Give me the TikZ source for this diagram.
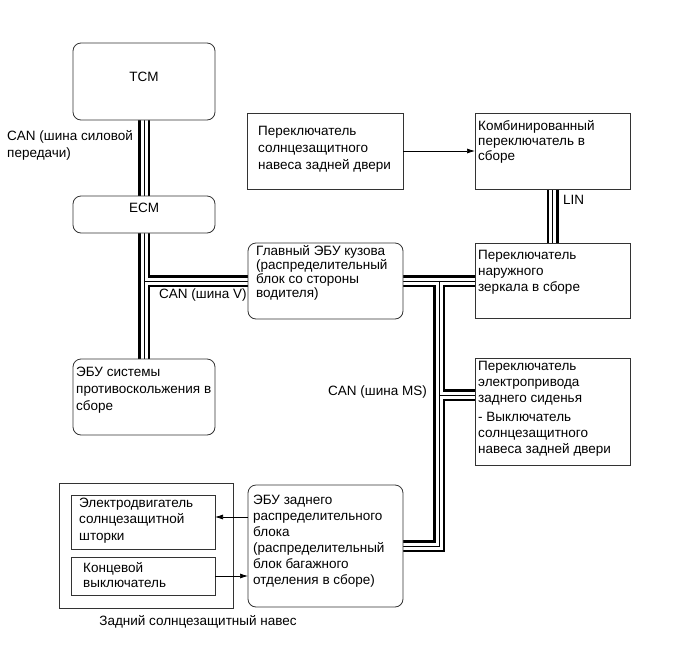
\documentclass[tikz,border=0pt]{standalone}
\usepackage{fontspec}
\setmainfont{Liberation Sans}
\usetikzlibrary{arrows.meta,calc}
\pgfdeclarelayer{bg}
\pgfsetlayers{bg,main}
\begin{document}
\begin{tikzpicture}[x=1pt,y=-1pt,
  box/.style={draw=black!80, line width=0.8pt, fill=white, inner sep=0pt, outer sep=0pt, anchor=north west},
  rbox/.style={box, rounded corners=8pt},
  txt/.style={font=\fontsize{13.5}{16}\selectfont, align=left, anchor=north west, inner sep=0pt, execute at begin node=\rule{0pt}{12pt}},
  ctxt/.style={font=\fontsize{13.5}{16}\selectfont, inner sep=0pt},
  arr/.style={line width=0.7pt, -{Latex[length=8pt,width=5pt]}}
]
\useasboundingbox (0,0) rectangle (686,662);

% boxes
\node[rbox, minimum width=142pt, minimum height=77pt] (tcm) at (73,43) {};
\node[rbox, minimum width=142pt, minimum height=37pt] (ecm) at (73,196) {};
\node[rbox, minimum width=142pt, minimum height=76pt] (abs) at (73,359) {};
\node[rbox, minimum width=155pt, minimum height=76pt] (bcm) at (248,243) {};
\node[box, minimum width=156pt, minimum height=76pt] (door) at (247,113) {};
\node[box, minimum width=155pt, minimum height=76pt] (comb) at (475,113) {};
\node[box, minimum width=155pt, minimum height=75pt] (mirror) at (475,243) {};
\node[box, minimum width=155pt, minimum height=107pt] (seat) at (475,358) {};
\node[rbox, minimum width=155pt, minimum height=122pt] (rear) at (248,485) {};
\node[box, minimum width=174pt, minimum height=125pt] (shade) at (59,483) {};
\node[box, minimum width=144pt, minimum height=54pt] (motor) at (71,495) {};
\node[box, minimum width=144pt, minimum height=38pt] (limit) at (71,557) {};

% texts
\node[ctxt] (ttcm) at (144,77) {TCM};
\node[ctxt] (tecm) at (144,208) {ECM};
\node[txt, font=\fontsize{13.5}{17}\selectfont] (tabs) at (76,366.7) {ЭБУ системы\\противоскольжения в\\сборе};
\node[txt, font=\fontsize{13.5}{14}\selectfont] (tbcm) at (256,245.7) {Главный ЭБУ кузова\\(распределительный\\блок со стороны\\водителя)};
\node[txt, font=\fontsize{13.5}{17}\selectfont] (tdoor) at (258,125.7) {Переключатель\\солнцезащитного\\навеса задней двери};
\node[txt, font=\fontsize{13.5}{15}\selectfont] (tcomb) at (478,120.7) {Комбинированный\\переключатель в\\сборе};
\node[txt] (tmirror) at (478,249.7) {Переключатель\\наружного\\зеркала в сборе};
\node[txt] (tseat) at (478,360.7) {Переключатель\\электропривода\\заднего сиденья\\[3pt]- Выключатель\\солнцезащитного\\навеса задней двери};
\node[txt, font=\fontsize{13.5}{16.5}\selectfont] (tmotor) at (79,497.7) {Электродвигатель\\солнцезащитной\\шторки};
\node[txt, font=\fontsize{13.5}{15}\selectfont] (tlimit) at (83,562.7) {Концевой\\выключатель};
\node[txt] (trear) at (253,494.7) {ЭБУ заднего\\распределительного\\блока\\(распределительный\\блок багажного\\отделения в сборе)};
\node[ctxt] (tshade) at (198,622) {Задний солнцезащитный навес};
\node[txt, font=\fontsize{13.5}{17}\selectfont] (lcan1) at (7,130.7) {CAN (шина силовой\\передачи)};
\node[ctxt, anchor=west] (lcanv) at (159,295) {CAN (шина V)};
\node[ctxt, anchor=west] (lcanms) at (328,392) {CAN (шина MS)};
\node[ctxt, anchor=west] (llin) at (563,200) {LIN};

% junction coordinates
\coordinate (jv) at (ecm.south |- bcm.west);
\coordinate (jms) at ($(bcm.east)!0.5!(mirror.west)$);
\coordinate (js) at (jms |- 0,395);

\newcommand\busnet[1]{%
  \draw[#1] (tcm.south) -- (ecm.north);
  \draw[#1] (ecm.south) -- (abs.north);
  \draw[#1] (jv) -- (bcm.west);
  \draw[#1] (bcm.east) -- (bcm.east -| mirror.west);
  \draw[#1] (comb.south) -- (mirror.north);
  \draw[#1] (jms) |- (rear.east);
  \draw[#1] (js) -- (js -| seat.west);
}
\begin{pgfonlayer}{bg}
  \busnet{line width=12pt, black}
  \busnet{line width=7pt, white}
  \busnet{line width=1pt, black}
\end{pgfonlayer}

% arrows
\draw[arr] (door.east) -- (comb.west);
\draw[arr] ([yshift=5pt]motor.east -| rear.west) -- ([yshift=5pt]motor.east);
\draw[arr] (limit.east) -- (limit.east -| rear.west);
\end{tikzpicture}
\end{document}
